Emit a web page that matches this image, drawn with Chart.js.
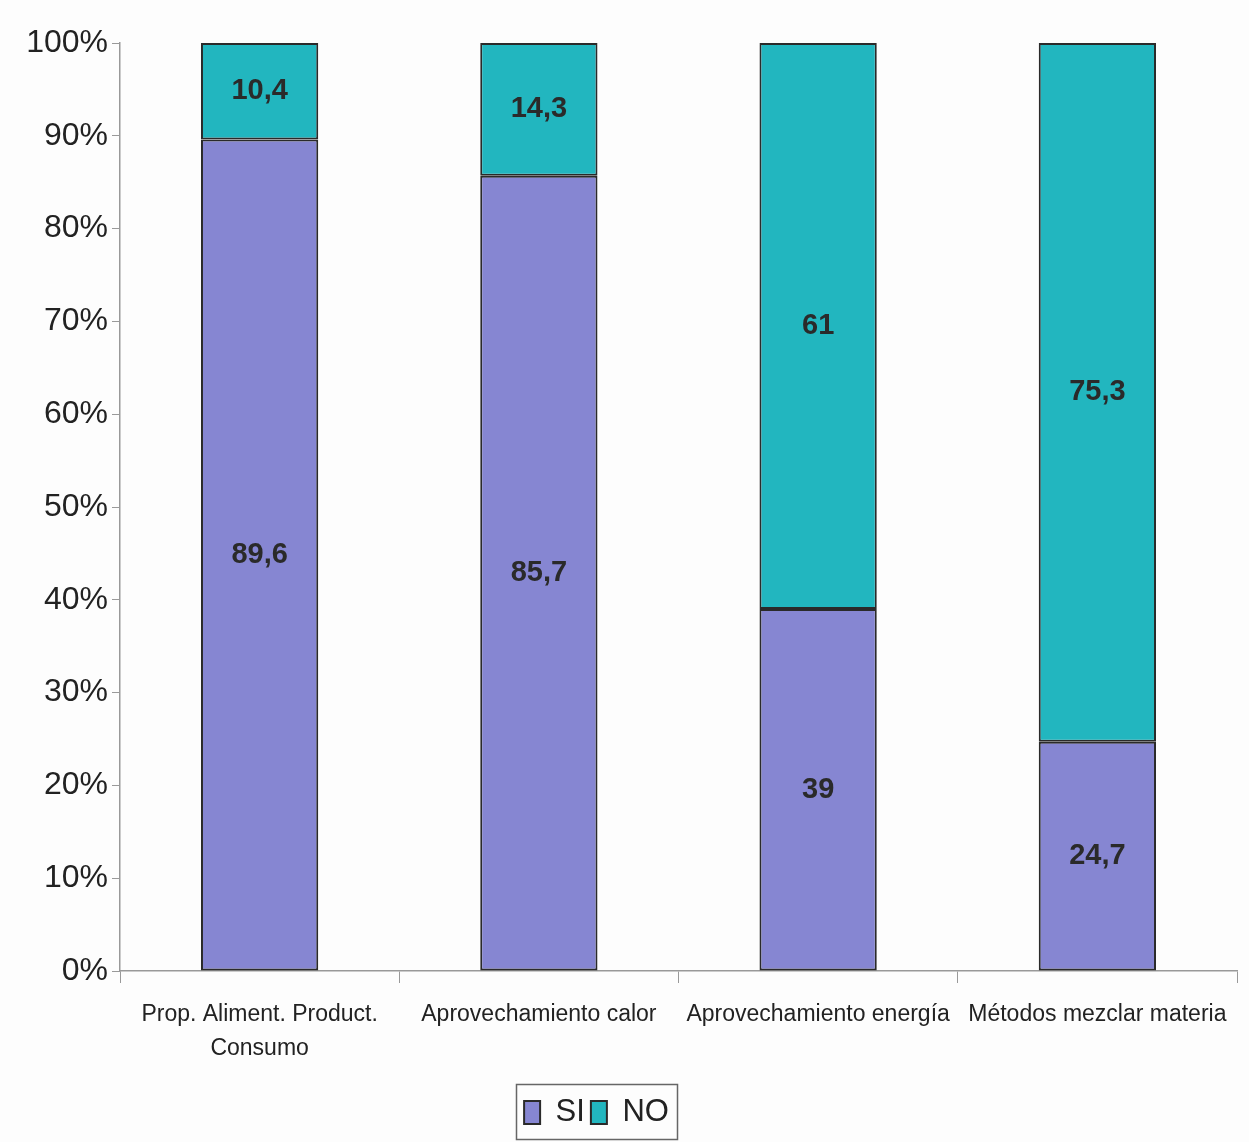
<!DOCTYPE html>
<html>
<head>
<meta charset="utf-8">
<script src="https://cdn.jsdelivr.net/npm/chart.js@4/dist/chart.umd.min.js"></script>
<style>
  html, body { margin: 0; padding: 0; background: #fdfdfd; }
  #wrap { width: 1249px; height: 1142px; }
</style>
</head>
<body>
<div id="wrap"><canvas id="chart"></canvas></div>
<script>
// categories and values (percent)
let categories = [
    ["Prop. Aliment. Product.", "Consumo"],
    "Aprovechamiento calor",
    "Aprovechamiento energía",
    "Métodos mezclar materia"
];
let siValues = [89.6, 85.7, 39, 24.7];
let noValues = [10.4, 14.3, 61, 75.3];
let siLabels = ["89,6", "85,7", "39", "24,7"];
let noLabels = ["10,4", "14,3", "61", "75,3"];

let fontStack = "'Liberation Sans', Arial, sans-serif";

// draws the numbers inside each segment
let segmentLabels = {
    id: "segmentLabels",
    afterDatasetsDraw(chart) {
        let ctx = chart.ctx;
        ctx.save();
        ctx.font = "bold 29px " + fontStack;
        ctx.fillStyle = "#2a2a2a";
        ctx.textAlign = "center";
        ctx.textBaseline = "middle";
        chart.data.datasets.forEach((ds, i) => {
            let meta = chart.getDatasetMeta(i);
            meta.data.forEach((bar, j) => {
                let mid = (bar.y + bar.base) / 2;
                ctx.fillText(ds.valueLabels[j], bar.x, mid);
            });
        });
        ctx.restore();
    }
};

// legend sits a bit left of centre, with a box round it
let legendBox = {
    id: "legendBox",
    afterLayout(chart) {
        chart.legend.left -= 22;
        chart.legend.right -= 22;
    },
    afterDraw(chart) {
        let ctx = chart.ctx;
        let w = 161, h = 55;
        let cx = 597;
        let cy = 1112;
        ctx.save();
        ctx.strokeStyle = "#666";
        ctx.lineWidth = 1.5;
        ctx.strokeRect(cx - w / 2, cy - h / 2, w, h);
        ctx.restore();
    }
};

let chart = new Chart(document.getElementById("chart").getContext("2d"), {
    type: "bar",
    data: {
        labels: categories,
        datasets: [
            {
                label: "SI",
                data: siValues,
                valueLabels: siLabels,
                backgroundColor: "#8686d2",
                borderColor: "#2a2a2a",
                borderWidth: 2,
                borderSkipped: false
            },
            {
                label: "NO",
                data: noValues,
                valueLabels: noLabels,
                backgroundColor: "#22b6bf",
                borderColor: "#2a2a2a",
                borderWidth: 2,
                borderSkipped: false
            }
        ]
    },
    options: {
        responsive: true,
        maintainAspectRatio: false,
        animation: false,
        layout: { padding: { top: 43, right: 12, left: 0, bottom: 4 } },
        datasets: { bar: { categoryPercentage: 1, barPercentage: 0.42 } },
        scales: {
            x: {
                stacked: true,
                grid: { display: true, offset: true, drawOnChartArea: false, tickLength: 12, color: "#999" },
                border: { color: "#999", width: 1.5 },
                ticks: {
                    color: "#222",
                    font: { family: fontStack, size: 23, lineHeight: 1.5 },
                    maxRotation: 0,
                    autoSkip: false,
                    padding: 14
                },
                afterFit: (scale) => { scale.height = 120; }
            },
            y: {
                stacked: true,
                min: 0,
                max: 100,
                grid: { display: true, drawOnChartArea: false, tickLength: 8, color: "#999" },
                border: { color: "#999", width: 1.5 },
                ticks: {
                    stepSize: 10,
                    color: "#222",
                    font: { family: fontStack, size: 32 },
                    padding: 4,
                    callback: (v) => v + "%"
                },
                afterFit: (scale) => { scale.width = 120; }
            }
        },
        plugins: {
            legend: {
                position: "bottom",
                labels: {
                    color: "#222",
                    font: { family: fontStack, size: 31 },
                    boxWidth: 16,
                    boxHeight: 23,
                    padding: 6
                }
            },
            tooltip: { enabled: false }
        }
    },
    plugins: [segmentLabels, legendBox]
});
</script>
</body>
</html>
